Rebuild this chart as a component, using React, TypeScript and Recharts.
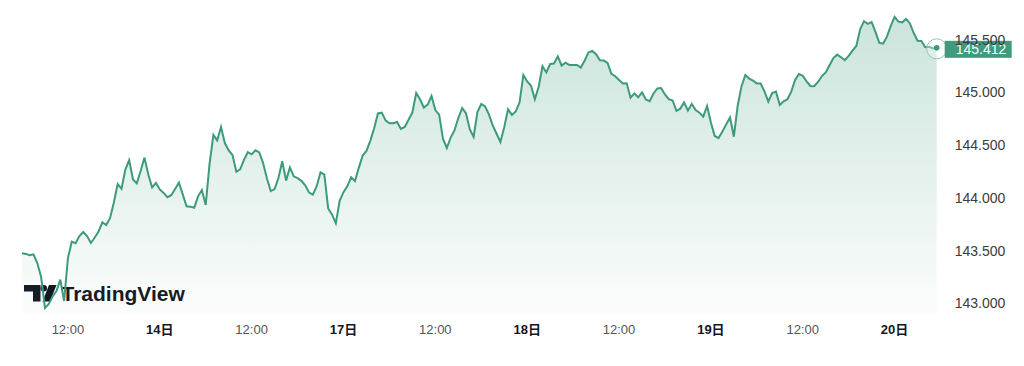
import React from 'react';
import { AreaChart, Area, XAxis, YAxis, ReferenceDot } from 'recharts';

// USD/JPY style price series, one value every 30 minutes of trading time (13日 06:00 → 20日 05:30)
const prices: number[] = [
  143.474, 143.468, 143.456, 143.464, 143.382, 143.249, 142.955, 142.993, 143.064, 143.117,
  143.225, 143.022, 143.429, 143.584, 143.569, 143.638, 143.676, 143.638, 143.572, 143.624,
  143.681, 143.768, 143.742, 143.807, 143.955, 144.130, 144.085, 144.267, 144.356, 144.173,
  144.137, 144.254, 144.381, 144.220, 144.098, 144.140, 144.079, 144.046, 144.006, 144.025,
  144.083, 144.143, 144.033, 143.919, 143.916, 143.905, 144.014, 144.074, 143.932, 144.319,
  144.595, 144.544, 144.671, 144.519, 144.449, 144.405, 144.247, 144.269, 144.360, 144.432,
  144.412, 144.450, 144.430, 144.329, 144.182, 144.064, 144.083, 144.188, 144.346, 144.163,
  144.288, 144.203, 144.186, 144.161, 144.118, 144.050, 144.030, 144.110, 144.241, 144.219,
  143.899, 143.842, 143.758, 143.972, 144.053, 144.109, 144.194, 144.159, 144.284, 144.399,
  144.444, 144.540, 144.657, 144.800, 144.807, 144.734, 144.707, 144.707, 144.719, 144.652,
  144.671, 144.740, 144.808, 144.993, 144.934, 144.855, 144.883, 144.965, 144.832, 144.788,
  144.558, 144.472, 144.571, 144.638, 144.756, 144.851, 144.801, 144.650, 144.576, 144.812,
  144.889, 144.865, 144.791, 144.687, 144.607, 144.529, 144.668, 144.839, 144.786, 144.819,
  144.903, 145.164, 145.103, 145.062, 144.934, 145.053, 145.247, 145.188, 145.268, 145.273,
  145.341, 145.253, 145.281, 145.259, 145.259, 145.259, 145.234, 145.299, 145.378, 145.392,
  145.361, 145.303, 145.301, 145.278, 145.174, 145.152, 145.117, 145.083, 145.085, 144.948,
  144.989, 144.953, 145.000, 144.931, 144.915, 144.989, 145.037, 145.040, 144.979, 144.935,
  144.922, 144.825, 144.845, 144.904, 144.826, 144.889, 144.832, 144.807, 144.769, 144.870,
  144.714, 144.586, 144.566, 144.628, 144.696, 144.762, 144.579, 144.873, 145.058, 145.163,
  145.130, 145.110, 145.084, 145.083, 145.009, 144.911, 144.992, 145.006, 144.880, 144.914,
  144.934, 145.006, 145.117, 145.174, 145.157, 145.104, 145.060, 145.057, 145.098, 145.154,
  145.189, 145.257, 145.325, 145.357, 145.332, 145.305, 145.345, 145.395, 145.439, 145.597,
  145.674, 145.648, 145.666, 145.573, 145.468, 145.462, 145.527, 145.629, 145.714, 145.670,
  145.663, 145.696, 145.653, 145.562, 145.489, 145.487, 145.427, 145.431, 145.417, 145.412,
];

const xTickIndex: number[] = [12, 36, 60, 84, 108, 132, 156, 180, 204, 228];
const xTickLabels: string[] = ['12:00', '14日', '12:00', '17日', '12:00', '18日', '12:00', '19日', '12:00', '20日'];
const yTicks: number[] = [143, 143.5, 144, 144.5, 145, 145.5];
const yDomain: [number, number] = [142.908, 145.799];
const lastPrice = 145.412;

const LINE = '#3d9a7d';
const BADGE = '#3f9a7e';
const FONT = '"Liberation Sans", Arial, "Noto Sans CJK JP", sans-serif';

const data = prices.map((p, i) => ({ i, p }));

const XTick = (props: any) => {
  const { x, y, payload } = props;
  const idx = xTickIndex.indexOf(payload.value);
  const label = idx >= 0 ? xTickLabels[idx] : '';
  const isDay = label.endsWith('日');
  return (
    <text
      x={x}
      y={y}
      dy="0.71em"
      textAnchor="middle"
      fontFamily={FONT}
      fontSize={13}
      fontWeight={isDay ? 700 : 400}
      fill={isDay ? '#131722' : '#555555'}
    >
      {label}
    </text>
  );
};

const YTick = (props: any) => {
  const { x, y, payload } = props;
  return (
    <text x={x} y={y} dy="0.355em" textAnchor="start" fontFamily={FONT} fontSize={14} fill="#3b3b3b">
      {Number(payload.value).toFixed(3)}
    </text>
  );
};

const LastPriceMarker = (props: any) => {
  const { cx, cy } = props;
  return (
    <g>
      <circle cx={cx} cy={cy} r={10} fill="rgba(255,255,255,0.35)" stroke="#8ccab6" strokeWidth={1} />
      <circle cx={cx} cy={cy - 1} r={2.8} fill={LINE} />
      <rect x={cx + 8} y={cy - 8} width={67} height={17} fill={BADGE} />
      <text x={cx + 19} y={cy + 0.5} dy="0.355em" fontFamily={FONT} fontSize={14} fill="#ffffff">
        {lastPrice.toFixed(3)}
      </text>
    </g>
  );
};

export default function App() {
  return (
    <div style={{ position: 'absolute', left: 0, top: 0, width: 1024, height: 366, background: '#ffffff' }}>
      <AreaChart
        width={1024}
        height={366}
        data={data}
        margin={{ top: 8, right: 7.3, left: 22, bottom: 23 }}
      >
        <defs>
          <linearGradient id="tvFill" x1="0" y1="0" x2="0" y2="1">
            <stop offset="0%" stopColor={LINE} stopOpacity={0.27} />
            <stop offset="100%" stopColor={LINE} stopOpacity={0.02} />
          </linearGradient>
        </defs>
        <XAxis
          dataKey="i"
          type="number"
          domain={[0, prices.length - 1]}
          ticks={xTickIndex}
          interval={0}
          axisLine={false}
          tickLine={false}
          tickSize={0}
          tickMargin={12}
          height={30}
          tick={<XTick />}
        />
        <YAxis
          orientation="right"
          type="number"
          domain={yDomain}
          allowDataOverflow
          ticks={yTicks}
          interval={0}
          axisLine={false}
          tickLine={false}
          tickSize={0}
          tickMargin={18}
          width={80}
          tick={<YTick />}
        />
        <g fill="#131722">
          <path d="M24 285 H40.5 V301.5 H33 V291.5 H24 Z" />
          <circle cx={43.8} cy={288.2} r={3.2} />
          <path d="M42.5 301.5 L50 301.5 L56.5 285 L49 285 Z" />
          <text x={61.5} y={300.5} fontFamily={FONT} fontSize={21} fontWeight={700}>
            TradingView
          </text>
        </g>
        <Area
          type="linear"
          dataKey="p"
          stroke={LINE}
          strokeWidth={2}
          fill="url(#tvFill)"
          fillOpacity={1}
          dot={false}
          activeDot={false}
          isAnimationActive={false}
        />
        <ReferenceDot
          x={prices.length - 1}
          y={lastPrice}
          ifOverflow="visible"
          shape={<LastPriceMarker />}
          zIndex={1500}
        />
      </AreaChart>
    </div>
  );
}
